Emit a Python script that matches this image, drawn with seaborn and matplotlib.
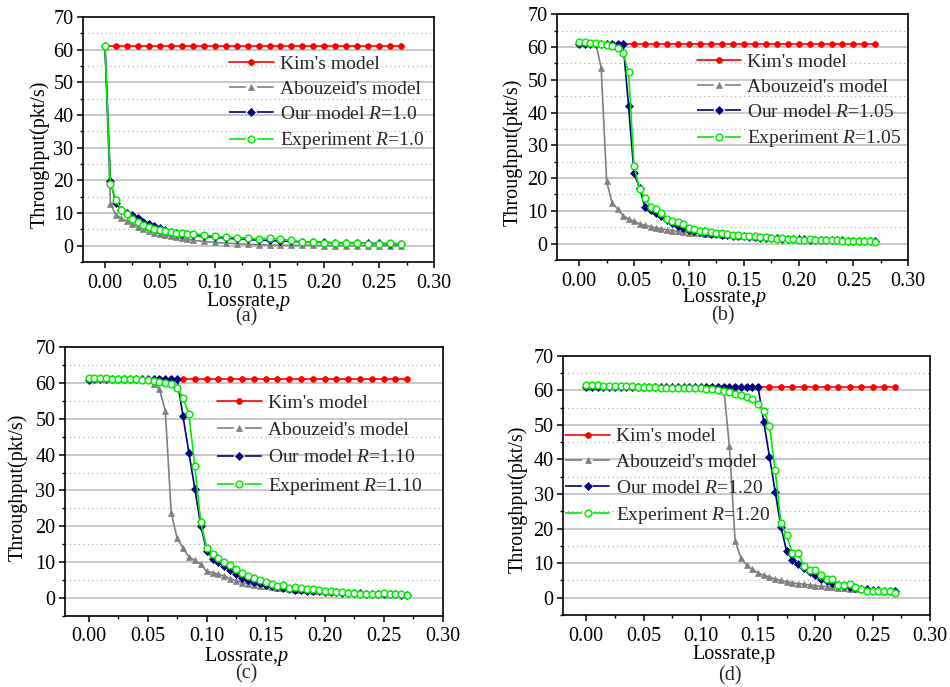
import matplotlib
matplotlib.use("Agg")
import matplotlib.pyplot as plt
from matplotlib.lines import Line2D
from matplotlib.ticker import MultipleLocator, FormatStrFormatter
import seaborn as sns

# loss rates where the points were taken
X_KIM = [0.00, 0.01, 0.02, 0.03, 0.04, 0.05, 0.06, 0.07, 0.08, 0.09,
         0.10, 0.11, 0.12, 0.13, 0.14, 0.15, 0.16, 0.17, 0.18, 0.19,
         0.20, 0.21, 0.22, 0.23, 0.24, 0.25, 0.26, 0.27]
X_A = [0.000, 0.005, 0.010, 0.015, 0.020, 0.025, 0.030, 0.035, 0.040,
       0.045, 0.050, 0.055, 0.060, 0.065, 0.070, 0.075, 0.080,
       0.09, 0.10, 0.11, 0.12, 0.13, 0.14, 0.15, 0.16, 0.17, 0.18,
       0.19, 0.20, 0.21, 0.22, 0.23, 0.24, 0.25, 0.26, 0.27]
X_FINE = [0.000, 0.005, 0.010, 0.015, 0.020, 0.025, 0.030, 0.035, 0.040, 0.045,
          0.050, 0.055, 0.060, 0.065, 0.070, 0.075, 0.080, 0.085, 0.090, 0.095,
          0.100, 0.105, 0.110, 0.115, 0.120, 0.125, 0.130, 0.135, 0.140, 0.145,
          0.150, 0.155, 0.160, 0.165, 0.170, 0.175, 0.180, 0.185, 0.190, 0.195,
          0.200, 0.205, 0.210, 0.215, 0.220, 0.225, 0.230, 0.235, 0.240, 0.245,
          0.250, 0.255, 0.260, 0.265, 0.270]

KIM = [61.0, 61.0, 61.0, 61.0, 61.0, 61.0, 61.0, 61.0, 61.0, 61.0,
       61.0, 61.0, 61.0, 61.0, 61.0, 61.0, 61.0, 61.0, 61.0, 61.0,
       61.0, 61.0, 61.0, 61.0, 61.0, 61.0, 61.0, 61.0]

# (a) R=1.0
ABOU_A = [61.2, 12.8, 9.4, 8.4, 7.5, 6.7, 5.8, 5.2, 4.5, 4.0, 3.6, 3.3, 2.9,
          2.6, 2.3, 2.0, 1.7, 1.3, 1.0, 0.8, 0.6, 0.4, 0.3, 0.2, 0.1, 0.1,
          0.1, 0.1, 0.0, 0.0, 0.0, 0.0, 0.0, 0.0, 0.0, 0.0]
OUR_A = [61.2, 19.7, 13.0, 10.9, 10.0, 9.4, 8.5, 7.4, 6.6, 5.9, 5.3, 4.8,
         4.3, 4.0, 3.7, 3.5, 3.2, 2.9, 2.6, 2.3, 2.1, 1.9, 1.7, 1.6, 1.4,
         1.3, 1.2, 1.1, 1.0, 0.9, 0.8, 0.8, 0.7, 0.7, 0.6, 0.6]
EXP_A = [61.2, 19.0, 13.9, 10.9, 9.7, 8.3, 7.1, 6.3, 5.8, 5.2, 4.8, 4.5,
         4.2, 4.0, 3.8, 3.7, 3.6, 3.3, 2.9, 2.6, 2.5, 2.3, 2.0, 2.2, 2.0,
         1.6, 1.2, 1.0, 0.9, 0.9, 0.8, 0.8, 0.6, 0.5, 0.8, 0.5]

# (b) R=1.05
ABOU_B = [61.3, 61.3, 61.3, 61.2, 53.7, 19.0, 12.5, 10.6, 8.5, 7.5,
          6.8, 6.1, 5.6, 5.2, 4.8, 4.5, 4.2, 4.0, 3.8, 3.6,
          3.4, 3.3, 3.1, 3.0, 2.9, 2.8, 2.7, 2.6, 2.5, 2.4,
          2.3, 2.2, 2.1, 2.0, 2.0, 1.9, 1.8, 1.8, 1.7, 1.6,
          1.6, 1.5, 1.5, 1.4, 1.4, 1.3, 1.3, 1.3, 1.2, 1.2,
          1.2, 1.1, 1.1, 1.1, 1.0]
OUR_B = [61.0, 61.0, 61.0, 61.0, 61.0, 61.0, 61.0, 61.0, 61.0, 42.0,
         21.5, 17.0, 11.2, 10.2, 9.5, 8.5, 7.2, 6.2, 5.5, 4.8,
         4.2, 3.8, 3.5, 3.2, 3.0, 2.8, 2.6, 2.5, 2.4, 2.3,
         2.2, 2.0, 1.9, 1.8, 1.7, 1.6, 1.6, 1.5, 1.4, 1.4,
         1.3, 1.3, 1.2, 1.2, 1.1, 1.1, 1.0, 1.0, 1.0, 0.9,
         0.9, 0.9, 0.8, 0.8, 0.8]
EXP_B = [61.4, 61.4, 61.2, 61.1, 60.8, 60.7, 60.4, 59.6, 58.2, 52.3,
         23.7, 16.6, 13.8, 11.2, 10.5, 9.5, 7.4, 6.8, 6.5, 5.9,
         4.9, 4.6, 4.0, 4.0, 3.6, 3.3, 3.2, 3.0, 2.6, 2.5,
         2.3, 2.2, 2.2, 2.1, 1.9, 1.8, 1.5, 1.6, 1.5, 1.4,
         1.1, 1.2, 1.3, 1.2, 1.2, 1.1, 1.0, 1.0, 0.9, 0.9,
         0.8, 0.8, 0.7, 0.7, 0.6]

# (c) R=1.10
ABOU_C = [61.2, 61.2, 61.2, 61.2, 61.2, 61.2, 61.2, 61.2, 61.2, 61.2,
          61.0, 59.7, 58.3, 52.2, 23.8, 16.6, 13.9, 11.4, 10.5, 9.4,
          7.4, 7.0, 6.6, 6.1, 5.3, 4.8, 4.2, 3.9, 3.6, 3.4,
          3.2, 3.0, 2.8, 2.6, 2.5, 2.3, 2.2, 2.1, 2.0, 1.9,
          1.8, 1.7, 1.6, 1.6, 1.5, 1.5, 1.4, 1.4, 1.3, 1.3,
          1.2, 1.2, 1.1, 1.1, 1.0]
OUR_C = [60.9, 61.0, 61.0, 61.0, 61.0, 61.0, 61.0, 61.0, 61.0, 61.0,
         61.0, 61.0, 61.0, 61.0, 61.0, 61.0, 50.7, 40.5, 30.5, 20.2,
         13.2, 10.9, 9.9, 8.9, 7.9, 6.7, 5.6, 4.9, 4.4, 4.0,
         3.6, 3.3, 3.0, 2.7, 2.5, 2.3, 2.2, 2.0, 1.9, 1.8,
         1.7, 1.6, 1.5, 1.4, 1.4, 1.3, 1.3, 1.2, 1.2, 1.1,
         1.1, 1.0, 1.0, 0.9, 0.9]
EXP_C = [61.4, 61.4, 61.3, 61.3, 61.2, 61.1, 61.0, 61.0, 61.0, 60.9,
         60.8, 60.6, 60.4, 60.0, 59.6, 58.7, 55.8, 51.4, 36.7, 21.3,
         13.9, 12.2, 11.1, 10.0, 9.3, 8.1, 6.9, 6.2, 5.4, 4.9,
         4.3, 3.9, 3.4, 3.6, 2.7, 2.9, 2.6, 2.5, 2.4, 2.2,
         1.9, 1.8, 1.7, 1.5, 1.4, 1.3, 1.2, 1.2, 1.2, 1.2,
         1.3, 1.1, 1.0, 1.0, 0.9]

# (d) R=1.20
ABOU_D = [61.3, 61.3, 61.3, 61.3, 61.3, 61.3, 61.3, 61.3, 61.3, 61.3,
          61.3, 61.3, 61.3, 61.3, 61.3, 61.3, 61.3, 61.3, 61.3, 61.3,
          61.3, 61.3, 61.3, 61.3, 61.0, 43.8, 16.5, 11.5, 9.5, 8.2,
          7.2, 6.5, 6.0, 5.4, 5.0, 4.6, 4.3, 4.1, 3.9, 3.7,
          3.5, 3.3, 3.2, 3.0, 2.9, 2.8, 2.6, 2.5, 2.4, 2.3,
          2.2, 2.1, 2.0, 2.0, 1.9]
OUR_D = [61.0, 61.0, 61.0, 61.0, 61.0, 61.0, 61.0, 61.0, 61.0, 61.0,
         61.0, 61.0, 61.0, 61.0, 61.0, 61.0, 61.0, 61.0, 61.0, 61.0,
         61.0, 61.0, 61.0, 61.0, 61.0, 61.0, 61.0, 61.0, 61.0, 61.0,
         61.0, 50.9, 40.8, 30.7, 20.6, 13.4, 11.0, 9.7, 8.6, 7.5,
         6.5, 5.4, 4.8, 4.3, 3.8, 3.4, 3.0, 2.8, 2.6, 2.4,
         2.3, 2.2, 2.0, 1.9, 1.8]
EXP_D = [61.5, 61.4, 61.4, 61.3, 61.3, 61.2, 61.2, 61.1, 61.1, 61.0,
         61.0, 60.9, 60.9, 60.8, 60.8, 60.7, 60.7, 60.6, 60.6, 60.6,
         60.6, 60.5, 60.5, 60.2, 59.7, 59.4, 59.0, 58.5, 58.0, 57.4,
         55.9, 54.0, 49.7, 36.9, 21.5, 18.0, 13.0, 12.8, 9.2, 8.0,
         8.0, 6.5, 5.4, 5.5, 3.8, 3.8, 3.9, 3.0, 2.4, 2.0,
         2.0, 2.0, 1.9, 1.8, 1.5]

R_LABELS = ["1.0", "1.05", "1.10", "1.20"]

sns.set_theme(style="ticks")
plt.rcParams["font.family"] = ["Liberation Serif", "DejaVu Serif"]
plt.rcParams["mathtext.fontset"] = "custom"
plt.rcParams["mathtext.rm"] = "Liberation Serif"
plt.rcParams["mathtext.it"] = "Liberation Serif:italic"

FS_TICK = 14.5
FS_LAB = 14.5
FS_LEG = 14
HANDLE_LEN = 2.3
LW = 1.2

# series styles: colour, marker, size, face colour, edge width
STYLES = [
    ("#ff0000", "o", 4.2, "#ff0000", 0.5),
    ("#808080", "^", 5.0, "#808080", 0.5),
    ("#000080", "D", 3.6, "#000080", 0.5),
    ("#00ee00", "o", 4.8, "white", 1.1),
]


def legend_handle(style, gap):
    col, mk, ms, mfc, mew = style
    h = Line2D([], [], color=col, lw=LW, marker=mk, markersize=ms,
               markerfacecolor=mfc, markeredgecolor=col, markeredgewidth=mew)
    if gap:
        # Origin-style handle: the line breaks around the symbol
        half = HANDLE_LEN * FS_LEG / 2.0
        g = 4.0
        h.set_dashes([(half - g) / LW, 2 * g / LW, (half - g) / LW, 50])
    return h


def draw_panel(ax, x, abou, our, exp, r, xlab, tag, leg_xy, leg_sp, lab_pos, tag_pos, ylab_pos):
    ax.set_xlim(-0.02, 0.30)
    ax.set_ylim(-5, 70)
    ax.xaxis.set_major_locator(MultipleLocator(0.05))
    ax.xaxis.set_minor_locator(MultipleLocator(0.025))
    ax.yaxis.set_major_locator(MultipleLocator(10))
    ax.yaxis.set_minor_locator(MultipleLocator(5))
    ax.grid(which="major", axis="y", color="#c4c4c4", lw=1.3, ls="-")
    ax.grid(which="minor", axis="y", color="#a8a8a8", lw=0.8, ls=(0, (1, 3)))
    ax.set_axisbelow(True)

    labels = ["Kim's model", "Abouzeid's model",
              "Our model $R$=" + r, "Experiment $R$=" + r]
    series = [(X_KIM, KIM), (x, abou), (x, our), (x, exp)]
    for (xs, ys), st in zip(series, STYLES):
        col, mk, ms, mfc, mew = st
        sns.lineplot(x=xs, y=ys, ax=ax, color=col, lw=LW, marker=mk,
                     markersize=ms, markerfacecolor=mfc, markeredgecolor=col,
                     markeredgewidth=mew, legend=False)

    for s in ax.spines.values():
        s.set_color("black")
        s.set_linewidth(1.2)
    ax.tick_params(which="major", direction="out", length=4.5, width=1.1,
                   labelsize=FS_TICK, color="black", labelcolor="black")
    ax.tick_params(which="minor", direction="out", length=2.5, width=1.0, color="black")
    ax.tick_params(axis="x", pad=4)
    ax.tick_params(axis="y", pad=2.5)
    ax.xaxis.set_major_formatter(FormatStrFormatter("%.2f"))

    ax.set_ylabel("Throughput(pkt/s)", fontsize=FS_LAB, color="black")
    ax.yaxis.set_label_coords(*ylab_pos)
    ax.yaxis.label.set_va("center")
    ax.set_xlabel(xlab, fontsize=FS_LAB, color="black")
    ax.xaxis.set_label_coords(*lab_pos)
    ax.xaxis.label.set_va("center")
    ax.text(tag_pos[0], tag_pos[1], tag, transform=ax.transAxes, fontsize=FS_LAB,
            ha="center", va="center")

    handles = [legend_handle(st, i > 0) for i, st in enumerate(STYLES)]
    ax.legend(handles, labels, loc="upper left", bbox_to_anchor=leg_xy, frameon=False,
              fontsize=FS_LEG, handlelength=HANDLE_LEN, handletextpad=0.31,
              labelspacing=leg_sp, borderpad=0, borderaxespad=0)


fig = plt.figure(figsize=(9.5, 6.87), dpi=100)
ax_a = fig.add_axes([0.0874, 0.6186, 0.3695, 0.3567])
ax_b = fig.add_axes([0.5866, 0.6215, 0.3695, 0.3577])
ax_c = fig.add_axes([0.0684, 0.1038, 0.3976, 0.3907])
ax_d = fig.add_axes([0.5930, 0.1048, 0.3857, 0.3774])

draw_panel(ax_a, X_A, ABOU_A, OUR_A, EXP_A, R_LABELS[0], "Lossrate,$p$", "(a)",
           (0.416, 0.843), 0.38, (0.47, -0.16), (0.464, -0.222), (-0.122, 0.44))
draw_panel(ax_b, X_FINE, ABOU_B, OUR_B, EXP_B, R_LABELS[1], "Lossrate,$p$", "(b)",
           (0.397, 0.841), 0.38, (0.477, -0.154), (0.471, -0.229), (-0.127, 0.44))
draw_panel(ax_c, X_FINE, ABOU_C, OUR_C, EXP_C, R_LABELS[2], "Lossrate,$p$", "(c)",
           (0.402, 0.824), 0.49, (0.479, -0.151), (0.481, -0.218), (-0.124, 0.478))
draw_panel(ax_d, X_FINE, ABOU_D, OUR_D, EXP_D, R_LABELS[3], "Lossrate,p", "(d)",
           (0.005, 0.722), 0.41, (0.467, -0.153), (0.455, -0.236), (-0.124, 0.447))

fig.savefig("out.png", dpi=100)
